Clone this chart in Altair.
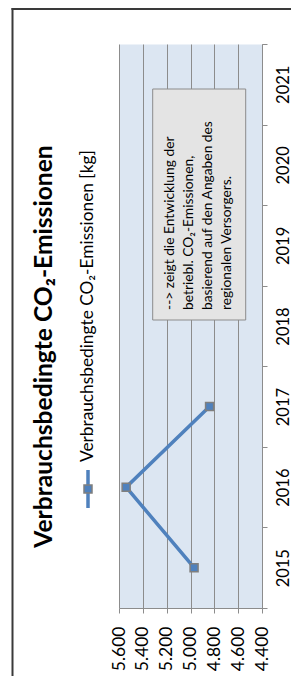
import altair as alt
import pandas as pd

# ---- data ----
years = ["2015", "2016", "2017", "2018", "2019", "2020", "2021"]
data_years = ["2015", "2016", "2017"]
emissions = [4970, 5540, 4840]
value_ticks = [4400, 4600, 4800, 5000, 5200, 5400, 5600]
title_text = "Verbrauchsbedingte CO₂-Emissionen"
legend_text = "Verbrauchsbedingte CO₂-Emissionen [kg]"
note_lines = [
    "--> zeigt die Entwicklung der",
    "betriebl. CO₂-Emissionen,",
    "basierend auf den Angaben des",
    "regionalen Versorgers.",
]

FONT = "Lato"
BLUE = "#4f81bd"
GRID = "#8c8c8c"
MARK_EDGE = "#7f7f7f"

df = pd.DataFrame({"year": data_years, "value": emissions})
one = alt.Data(values=[{"k": 1}])

x_enc = alt.X(
    "value:Q",
    scale=alt.Scale(domain=[4400, 5600], reverse=True, nice=False, zero=False),
    axis=alt.Axis(
        orient="bottom", values=value_ticks,
        labelExpr="replace(format(datum.value, ',.0f'), ',', '.')",
        labelAngle=270, labelAlign="right", labelBaseline="middle",
        labelFont=FONT, labelFontSize=17.5, labelColor="#000000", labelPadding=13,
        tickSize=5, tickColor=GRID, domainColor=GRID, grid=True, gridColor=GRID,
        gridWidth=1, labelOverlap=False, title=None,
    ),
)
y_enc = alt.Y(
    "year:O",
    scale=alt.Scale(type="band", domain=years[::-1], paddingInner=0, paddingOuter=0),
    bandPosition=0.5,
    axis=alt.Axis(
        orient="right", labelAngle=270, labelAlign="center", labelBaseline="top",
        labelFont=FONT, labelFontSize=16.5, labelColor="#000000", labelPadding=8,
        tickBand="extent", tickSize=5, tickColor=GRID, domainColor=GRID,
        grid=False, labelOverlap=False, labelBound=False, title=None,
    ),
)

base = alt.Chart(df).encode(x=x_enc, y=y_enc)
line = base.mark_line(color=BLUE, strokeWidth=3.5).encode(order=alt.Order("year:O"))
pts = base.mark_square(size=64, fill=BLUE, stroke=MARK_EDGE, strokeWidth=1.5, opacity=1)

# annotation box
note_box = alt.Chart(one).mark_rect(fill="#e4e4e4", stroke=GRID, strokeWidth=1).encode(
    x=alt.value(33.7), x2=alt.value(126.7), y=alt.value(45), y2=alt.value(276)
)
note_txt = alt.Chart(one).mark_text(
    angle=270, align="left", baseline="top", font=FONT, fontSize=13.8,
    lineHeight=19, color="#000000"
).encode(x=alt.value(44), y=alt.value(266), text=alt.value(note_lines))

# title
title = alt.Chart(one).mark_text(
    angle=270, align="center", baseline="middle", font=FONT, fontSize=24.6,
    fontWeight="bold", color="#000000"
).encode(x=alt.value(-74), y=alt.value(302.5), text=alt.value(title_text))

# legend
leg_line = alt.Chart(one).mark_rule(color=BLUE, strokeWidth=3.5).encode(
    x=alt.value(-31), y=alt.value(426), y2=alt.value(464)
)
leg_pt = alt.Chart(one).mark_square(size=64, fill=BLUE, stroke=MARK_EDGE, strokeWidth=1.5, opacity=1).encode(
    x=alt.value(-31), y=alt.value(445)
)
leg_txt = alt.Chart(one).mark_text(
    angle=270, align="left", baseline="middle", font=FONT, fontSize=17.3, color="#000000"
).encode(x=alt.value(-31), y=alt.value(418), text=alt.value(legend_text))

# chart border
border_left = alt.Chart(one).mark_rule(color="#3a3a3a", strokeWidth=2).encode(
    x=alt.value(-106.5), y=alt.value(-36), y2=alt.value(640)
)
border_top = alt.Chart(one).mark_rule(color="#3a3a3a", strokeWidth=2).encode(
    x=alt.value(-107.5), x2=alt.value(200), y=alt.value(-35)
)

chart = alt.layer(
    line, pts, note_box, note_txt, title, leg_line, leg_pt, leg_txt, border_left, border_top
).properties(
    width=143, height=564,
    autosize=alt.AutoSizeParams(type="none"),
    padding={"left": 111, "top": 36, "right": 29, "bottom": 68},
    background="#ffffff",
).configure_view(fill="#dce6f2", stroke="transparent")

chart.save("out.html", embed_options={"renderer": "svg", "actions": False})
